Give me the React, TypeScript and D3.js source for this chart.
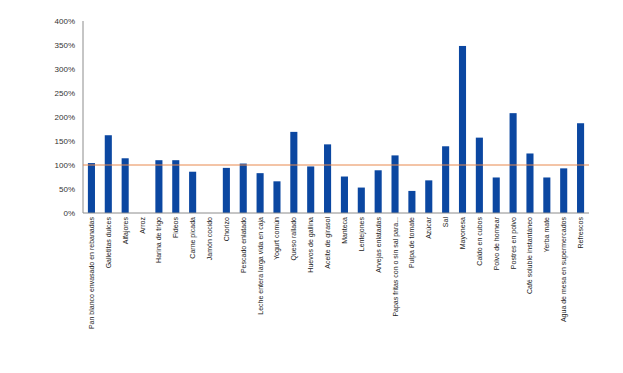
import React from 'react';
import * as d3 from 'd3';

const categories = [
  'Pan blanco envasado en rebanadas', 'Galletitas dulces', 'Alfajores', 'Arroz',
  'Harina de trigo', 'Fideos', 'Carne picada', 'Jamón cocido', 'Chorizo',
  'Pescado enlatado', 'Leche entera larga vida en caja', 'Yogurt común',
  'Queso rallado', 'Huevos de gallina', 'Aceite de girasol', 'Manteca',
  'Lentejones', 'Arvejas enlatadas', 'Papas fritas con o sin sal para...',
  'Pulpa de tomate', 'Azúcar', 'Sal', 'Mayonesa', 'Caldo en cubos',
  'Polvo de hornear', 'Postres en polvo', 'Café soluble instantáneo',
  'Yerba mate', 'Agua de mesa en supermercados', 'Refrescos',
];

// percent values
const values = [
  104, 162, 114, 0, 110, 110, 86, 0, 94, 103, 83, 66, 169, 97, 143, 76,
  53, 89, 120, 46, 68, 139, 348, 157, 74, 208, 124, 74, 93, 187,
];

const referenceLine = 100;
const yTicks = [0, 50, 100, 150, 200, 250, 300, 350, 400];

const App: React.FC = () => {
  const width = 623;
  const height = 373;
  const margin = { left: 83, right: 34 };

  const x = d3.scaleBand<string>()
    .domain(categories)
    .range([margin.left, width - margin.right])
    .paddingInner(0.58)
    .paddingOuter(0.29);

  const y = d3.scaleLinear()
    .domain([0, 400])
    .range([213, 21]);

  const font = '"Liberation Sans", Arial, sans-serif';
  const x0 = margin.left;
  const x1 = width - margin.right;

  return (
    <svg width={width} height={height} style={{ position: 'absolute', left: 0, top: 0, background: '#fff' }}>
      {/* y axis */}
      <line x1={x0} x2={x0} y1={y(400)} y2={y(0)} stroke="#8c8c8c" strokeWidth={1} />
      {yTicks.map(t => (
        <text key={t} x={x0 - 8} y={y(t)} dy="0.35em" textAnchor="end"
          style={{ fontFamily: font, fontSize: 8, fill: '#333' }}>
          {t}%
        </text>
      ))}

      {/* bars */}
      {categories.map((c, i) => (
        values[i] > 0 ? (
          <rect key={c} x={x(c)} y={y(values[i])} width={x.bandwidth()}
            height={y(0) - y(values[i])} fill="#0b47a1" />
        ) : null
      ))}

      {/* x axis */}
      <line x1={x0} x2={x1} y1={y(0)} y2={y(0)} stroke="#8c8c8c" strokeWidth={1} />

      {/* 100% line */}
      <line x1={x0} x2={x1} y1={y(referenceLine)} y2={y(referenceLine)} stroke="#e8894f" strokeWidth={1} />

      {/* category labels */}
      {categories.map(c => {
        const cx = (x(c) ?? 0) + x.bandwidth() / 2;
        return (
          <text key={c} transform={`translate(${cx + 2.5},${y(0) + 4}) rotate(-90)`}
            textAnchor="end"
            style={{ fontFamily: font, fontSize: 7, fill: '#222' }}>
            {c}
          </text>
        );
      })}
    </svg>
  );
};

export default App;
